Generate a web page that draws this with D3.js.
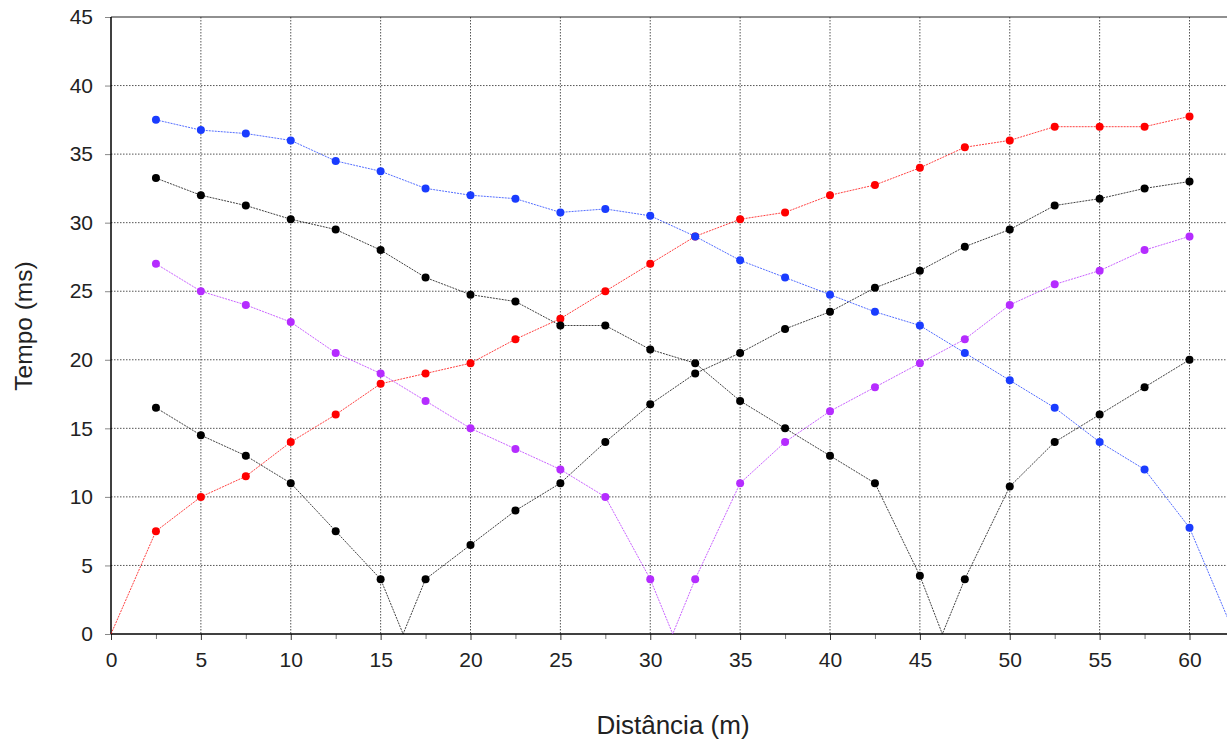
<!DOCTYPE html>
<html>
<head>
<meta charset="utf-8">
<script src="https://d3js.org/d3.v7.min.js"></script>
<style>
  html, body { margin: 0; padding: 0; background: #fff; }
  svg { display: block; font-family: "Liberation Sans", Arial, sans-serif; }
</style>
</head>
<body>
<svg id="chart" width="1227" height="742"></svg>
<script>
// Geophone positions (m)
const distances = [2.5, 5, 7.5, 10, 12.5, 15, 17.5, 20, 22.5, 25, 27.5, 30,
  32.5, 35, 37.5, 40, 42.5, 45, 47.5, 50, 52.5, 55, 57.5, 60];

// First-arrival times (ms) for each shot
const shotA = [7.5, 10, 11.5, 14, 16, 18.25, 19, 19.75, 21.5, 23, 25, 27,
  29, 30.25, 30.75, 32, 32.75, 34, 35.5, 36, 37, 37, 37, 37.75];
const shotB = [16.5, 14.5, 13, 11, 7.5, 4, 4, 6.5, 9, 11, 14, 16.75,
  19, 20.5, 22.25, 23.5, 25.25, 26.5, 28.25, 29.5, 31.25, 31.75, 32.5, 33];
const shotC = [27, 25, 24, 22.75, 20.5, 19, 17, 15, 13.5, 12, 10, 4,
  4, 11, 14, 16.25, 18, 19.75, 21.5, 24, 25.5, 26.5, 28, 29];
const shotD = [33.25, 32, 31.25, 30.25, 29.5, 28, 26, 24.75, 24.25, 22.5, 22.5, 20.75,
  19.75, 17, 15, 13, 11, 4.25, 4, 10.75, 14, 16, 18, 20];
const shotE = [37.5, 36.75, 36.5, 36, 34.5, 33.75, 32.5, 32, 31.75, 30.75, 31, 30.5,
  29, 27.25, 26, 24.75, 23.5, 22.5, 20.5, 18.5, 16.5, 14, 12, 7.75];

// Shot point positions (m), time zero at the source
const shotPositions = [0, 16.25, 31.25, 46.25, 62.5];
const shotColors = ["#ff0000", "#000000", "#b52cff", "#000000", "#1a3cff"];
const shotTimes = [shotA, shotB, shotC, shotD, shotE];

const xTicks = [0, 5, 10, 15, 20, 25, 30, 35, 40, 45, 50, 55, 60];
const xMinorTicks = [2.5, 7.5, 12.5, 17.5, 22.5, 27.5, 32.5, 37.5, 42.5, 47.5, 52.5, 57.5];
const yTicks = [0, 5, 10, 15, 20, 25, 30, 35, 40, 45];

const svg = d3.select("#chart");
const plotLeft = 111, plotTop = 17, plotRight = 1227, plotBottom = 634;

const x = d3.scaleLinear().domain([0, 60]).range([plotLeft, 1189.5]);
const y = d3.scaleLinear().domain([0, 45]).range([plotBottom, plotTop]);

svg.append("defs").append("clipPath").attr("id", "plotClip")
  .append("rect").attr("x", plotLeft).attr("y", plotTop - 5)
  .attr("width", plotRight - plotLeft).attr("height", plotBottom - plotTop + 10);

// Grid
const grid = svg.append("g");
grid.selectAll("line.v").data(xTicks.slice(1)).join("line")
  .attr("x1", d => x(d)).attr("x2", d => x(d))
  .attr("y1", plotTop).attr("y2", plotBottom)
  .attr("stroke", "#555").attr("stroke-width", 1)
  .attr("stroke-dasharray", "1.5,1.5");
grid.selectAll("line.h").data(yTicks.slice(1, -1)).join("line")
  .attr("x1", plotLeft).attr("x2", plotRight)
  .attr("y1", d => y(d)).attr("y2", d => y(d))
  .attr("stroke", "#555").attr("stroke-width", 1)
  .attr("stroke-dasharray", "1.5,1.5");

// Top border
svg.append("line").attr("x1", plotLeft).attr("x2", plotRight)
  .attr("y1", y(45)).attr("y2", y(45))
  .attr("stroke", "#222").attr("stroke-width", 1.2);

// Axes
const xAxis = svg.append("g").attr("transform", `translate(0,${plotBottom})`)
  .call(d3.axisBottom(x).tickValues(xTicks).tickSize(6).tickPadding(12).tickFormat(d3.format("d")));
xAxis.select(".domain").remove();
xAxis.selectAll("text").attr("font-size", 21).attr("fill", "#222");
xAxis.selectAll("line").attr("stroke", "#333");
svg.append("g").attr("transform", `translate(0,${plotBottom})`)
  .call(d3.axisBottom(x).tickValues(xMinorTicks).tickSize(5).tickFormat(""))
  .call(g => g.select(".domain").remove())
  .selectAll("line").attr("stroke", "#777");
svg.append("line").attr("x1", plotLeft).attr("x2", plotRight)
  .attr("y1", plotBottom).attr("y2", plotBottom)
  .attr("stroke", "#000").attr("stroke-width", 1.5);

const yAxis = svg.append("g").attr("transform", `translate(${plotLeft},0)`)
  .call(d3.axisLeft(y).tickValues(yTicks).tickSize(6).tickPadding(12).tickFormat(d3.format("d")));
yAxis.select(".domain").remove();
yAxis.selectAll("text").attr("font-size", 21).attr("fill", "#222");
yAxis.selectAll("line").attr("stroke", "#888");
svg.append("line").attr("x1", plotLeft).attr("x2", plotLeft)
  .attr("y1", plotTop).attr("y2", plotBottom)
  .attr("stroke", "#000").attr("stroke-width", 1.5);

// Travel-time curves
const plot = svg.append("g").attr("clip-path", "url(#plotClip)");
const line = d3.line().x(d => x(d[0])).y(d => y(d[1]));

shotTimes.forEach((times, i) => {
  const src = shotPositions[i];
  const pts = distances.map((d, j) => [d, times[j]]);
  const k = distances.findIndex(d => d > src);
  const path = k === -1 ? [...pts, [src, 0]] :
    [...pts.slice(0, k), [src, 0], ...pts.slice(k)];
  plot.append("path").datum(path)
    .attr("d", line).attr("fill", "none")
    .attr("stroke", shotColors[i]).attr("stroke-width", 1)
    .attr("stroke-opacity", 0.75)
    .attr("stroke-dasharray", "2,1");
  plot.selectAll(null).data(pts).join("circle")
    .attr("cx", d => x(d[0])).attr("cy", d => y(d[1]))
    .attr("r", 4).attr("fill", shotColors[i]);
});

// Axis titles
svg.append("text").attr("x", 673).attr("y", 734)
  .attr("text-anchor", "middle").attr("font-size", 26).attr("fill", "#222")
  .text("Distância (m)");
svg.append("text").attr("transform", `translate(32,326) rotate(-90)`)
  .attr("text-anchor", "middle").attr("font-size", 24.5).attr("fill", "#222")
  .text("Tempo (ms)");
</script>
</body>
</html>
